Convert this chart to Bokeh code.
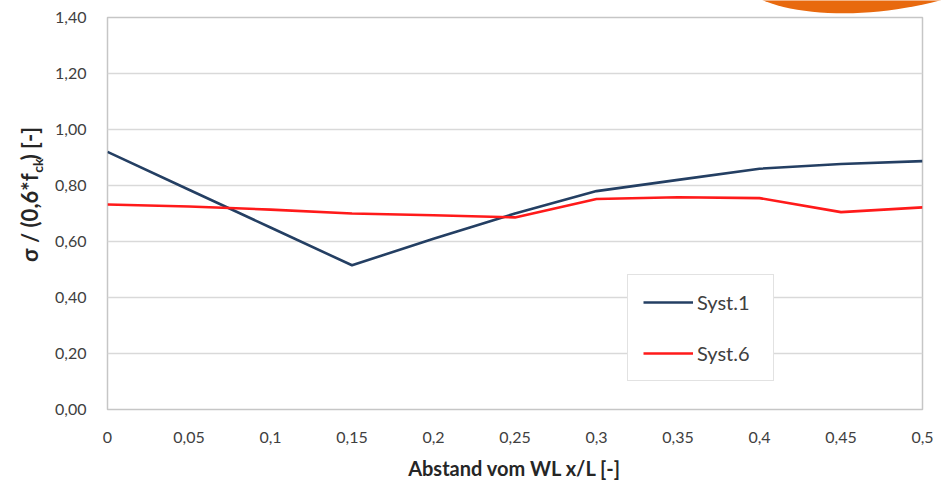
import numpy as np
from bokeh.plotting import figure
from bokeh.layouts import column, row
from bokeh.models import (Range1d, FixedTicker, CustomJSTickFormatter, Legend,
                          LegendItem, Label)
from bokeh.embed import file_html
from bokeh.resources import INLINE

# ---- data ----
x_vals = [0, 0.05, 0.1, 0.15, 0.2, 0.25, 0.3, 0.35, 0.4, 0.45, 0.5]
syst1 = [0.92, 0.785, 0.65, 0.515, 0.61, 0.70, 0.78, 0.82, 0.86, 0.877, 0.887]
syst6 = [0.732, 0.725, 0.714, 0.70, 0.694, 0.686, 0.752, 0.758, 0.755, 0.705, 0.722]
series_names = ["Syst.1", "Syst.6"]
x_ticks = [0, 0.05, 0.1, 0.15, 0.2, 0.25, 0.3, 0.35, 0.4, 0.45, 0.5]
y_ticks = [0, 0.2, 0.4, 0.6, 0.8, 1.0, 1.2, 1.4]
x_title = "Abstand vom WL x/L [-]"
y_title_parts = ["σ / (0,6*f", "ck", ") [-]"]

FONT = "Lato"
TICK_COLOR = "#404040"
TITLE_COLOR = "#262626"
GRID_COLOR = "#d9d9d9"
FRAME_COLOR = "#c6c6c6"

TOP_H = 14      # decorative strip on top
OVERLAP = 7     # the chart row slides up over the strip by this much
LEFT_W = 50     # strip carrying the y-axis title
TOTAL_W = 941
MAIN_H = 475

# ---------------- main chart ----------------
p = figure(width=TOTAL_W - LEFT_W, height=MAIN_H,
           min_border_left=57, min_border_right=19,
           min_border_top=10, min_border_bottom=73,
           x_range=Range1d(0, 0.5), y_range=Range1d(0, 1.4),
           output_backend="svg", toolbar_location=None)
p.background_fill_color = "white"
p.border_fill_alpha = 0
p.outline_line_color = FRAME_COLOR
p.outline_line_width = 1.5

r1 = p.line(x_vals, syst1, line_color="#243f63", line_width=2.6)
r6 = p.line(x_vals, syst6, line_color="#ff1a1a", line_width=2.6)

p.xgrid.visible = False
p.ygrid.ticker = FixedTicker(ticks=y_ticks)
p.ygrid.grid_line_color = GRID_COLOR
p.ygrid.grid_line_width = 1.6

p.xaxis.ticker = FixedTicker(ticks=x_ticks)
p.yaxis.ticker = FixedTicker(ticks=y_ticks)
p.xaxis.formatter = CustomJSTickFormatter(
    code="return String(Math.round(tick*100)/100).replace('.', ',');")
p.yaxis.formatter = CustomJSTickFormatter(
    code="return tick.toFixed(2).replace('.', ',');")
for ax in (p.xaxis, p.yaxis):
    ax.axis_line_color = None
    ax.major_tick_line_color = None
    ax.minor_tick_line_color = None
    ax.major_label_text_font = FONT
    ax.major_label_text_font_size = "16px"
    ax.major_label_text_color = TICK_COLOR
p.xaxis.major_label_standoff = 16
p.yaxis.major_label_standoff = 15

p.xaxis.axis_label = x_title
p.xaxis.axis_label_text_font = FONT
p.xaxis.axis_label_text_font_style = "bold"
p.xaxis.axis_label_text_font_size = "20px"
p.xaxis.axis_label_text_color = TITLE_COLOR
p.xaxis.axis_label_standoff = 10

legend = Legend(items=[LegendItem(label=series_names[0], renderers=[r1]),
                       LegendItem(label=series_names[1], renderers=[r6])],
                location=(520, 28))
legend.border_line_color = FRAME_COLOR
legend.border_line_width = 1.5
legend.background_fill_color = "white"
legend.background_fill_alpha = 1
legend.padding = 15
legend.spacing = 27
legend.glyph_width = 50
legend.glyph_height = 20
legend.label_height = 20
legend.label_width = 61
legend.label_standoff = 4
legend.label_text_font = FONT
legend.label_text_font_size = "20px"
legend.label_text_color = TICK_COLOR
legend.margin = 0
p.add_layout(legend)

# ---------------- left strip: y-axis title with subscript ----------------
y0 = TOP_H - OVERLAP  # picture y of this strip's top edge
left = figure(width=LEFT_W, height=MAIN_H,
              x_range=Range1d(0, LEFT_W), y_range=Range1d(y0 + MAIN_H, y0),
              x_axis_type=None, y_axis_type=None, min_border=0,
              output_backend="svg", toolbar_location=None)
left.outline_line_color = None
left.background_fill_alpha = 0
left.border_fill_alpha = 0
split_y = 196
common = dict(angle=np.pi / 2, text_font=FONT, text_font_style="bold",
              text_color=TITLE_COLOR, text_baseline="middle")
left.add_layout(Label(x=29, y=split_y, text=y_title_parts[0], text_align="right",
                      text_font_size="22px", **common))
left.add_layout(Label(x=36.5, y=split_y - 1, text=y_title_parts[1], text_align="left",
                      text_font_size="14px", **common))
left.add_layout(Label(x=29, y=split_y - 16, text=y_title_parts[2], text_align="left",
                      text_font_size="22px", **common))

# ---------------- top strip: orange decorative blob ----------------
top = figure(width=TOTAL_W, height=TOP_H,
             x_range=Range1d(0, TOTAL_W), y_range=Range1d(TOP_H, 0),
             x_axis_type=None, y_axis_type=None, min_border=0,
             output_backend="svg", toolbar_location=None)
top.outline_line_color = None
top.background_fill_color = "white"
top.border_fill_color = "white"
t = np.linspace(0, 2 * np.pi, 120)
th = np.deg2rad(-10)
a, b = 170, 72
cx, cy = 895, -64
ex = cx + a * np.cos(t) * np.cos(th) - b * np.sin(t) * np.sin(th)
ey = cy + (a * np.cos(t) * np.sin(th) + b * np.sin(t) * np.cos(th))
top.patch(ex, ey, fill_color="#e8690e", line_color=None)

chart_row = row(left, p, spacing=0, margin=(-OVERLAP, 0, 0, 0))
layout = column(top, chart_row, spacing=0)
open("out.html", "w").write(file_html(layout, INLINE))
